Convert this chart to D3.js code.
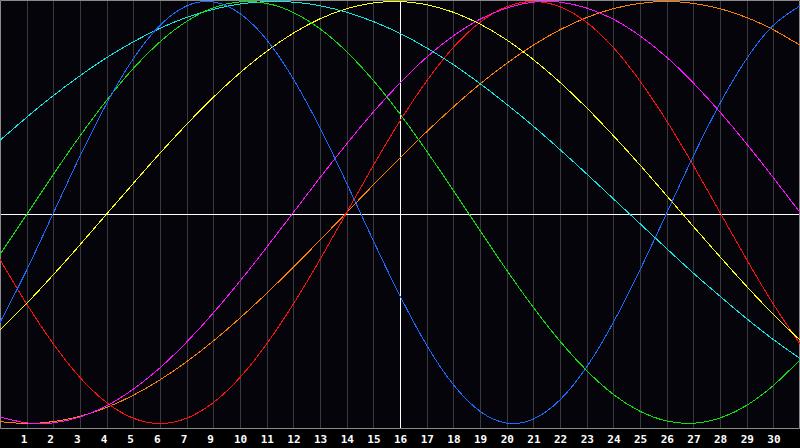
<!DOCTYPE html>
<html>
<head>
<meta charset="utf-8">
<script src="https://cdn.jsdelivr.net/npm/d3@7"></script>
<style>
  html, body { margin: 0; padding: 0; background: #000; }
  svg { display: block; }
</style>
</head>
<body>
<div id="chart"></div>
<script>
// days along the x axis (0..30) and the labels under the grid lines
var days = d3.range(0, 31);
var tickLabels = ["1", "2", "3", "4", "5", "6", "7", "9", "10", "11", "12", "13", "14", "15",
  "16", "17", "18", "19", "20", "21", "22", "23", "24", "25", "26", "27", "28", "29", "30"];

// curve values, one per day
var redValues = [-0.223, -0.434, -0.623, -0.782, -0.901, -0.975, -1.000, -0.975, -0.901, -0.782, -0.623,
  -0.434, -0.223, 0.000, 0.223, 0.434, 0.623, 0.782, 0.901, 0.975, 1.000, 0.975, 0.901, 0.782, 0.623,
  0.434, 0.223, 0.000, -0.223, -0.434, -0.623];
var blueValues = [-0.521, -0.273, -0.003, 0.267, 0.517, 0.729, 0.887, 0.979, 0.998, 0.943, 0.819,
  0.633, 0.401, 0.139, -0.134, -0.395, -0.629, -0.816, -0.942, -0.998, -0.979, -0.888, -0.732, -0.521,
  -0.272, -0.003, 0.267, 0.517, 0.729, 0.887, 0.979];
var greenValues = [-0.199, -0.010, 0.180, 0.363, 0.532, 0.683, 0.809, 0.906, 0.970, 0.998, 0.991,
  0.948, 0.871, 0.762, 0.626, 0.467, 0.291, 0.105, -0.086, -0.273, -0.450, -0.610, -0.749, -0.862,
  -0.942, -0.988, -0.999, -0.974, -0.914, -0.820, -0.698];
var cyanValues = [0.342, 0.451, 0.554, 0.648, 0.734, 0.809, 0.873, 0.925, 0.963, 0.988, 0.999,
  0.997, 0.980, 0.949, 0.905, 0.849, 0.780, 0.701, 0.611, 0.513, 0.409, 0.298, 0.183, 0.065,
  -0.053, -0.171, -0.287, -0.397, -0.503, -0.602, -0.692];
var yellowValues = [-0.558, -0.431, -0.295, -0.153, -0.007, 0.138, 0.281, 0.418, 0.546, 0.662, 0.764,
  0.850, 0.918, 0.966, 0.993, 1.000, 0.985, 0.949, 0.893, 0.818, 0.725, 0.617, 0.496, 0.364,
  0.225, 0.080, -0.066, -0.210, -0.350, -0.483, -0.605];
var magentaValues = [-0.969, -0.997, -0.997, -0.969, -0.916, -0.837, -0.736, -0.614, -0.476, -0.325, -0.165,
  0.000, 0.165, 0.325, 0.476, 0.614, 0.736, 0.837, 0.916, 0.969, 0.997, 0.997, 0.969, 0.916,
  0.837, 0.736, 0.614, 0.476, 0.325, 0.165, 0.000];
var orangeValues = [-0.991, -1.000, -0.991, -0.966, -0.924, -0.866, -0.793, -0.707, -0.609, -0.500, -0.383,
  -0.259, -0.131, 0.000, 0.131, 0.259, 0.383, 0.500, 0.609, 0.707, 0.793, 0.866, 0.924, 0.966,
  0.991, 1.000, 0.991, 0.966, 0.924, 0.866, 0.793];

var seriesNames = ["orange", "red", "magenta", "yellow", "cyan", "green", "blue"];
var seriesValues = [orangeValues, redValues, magentaValues, yellowValues, cyanValues, greenValues, blueValues];
var seriesColors = ["#ff8000", "#ff1010", "#ff10ff", "#ffff10", "#10e8e8", "#10e010", "#1a6cff"];

var svgWidth = 800;
var svgHeight = 448;
var plotBottom = 428;

var svg = d3.select("#chart")
  .append("svg")
  .attr("width", svgWidth)
  .attr("height", svgHeight);

svg.append("rect")
  .attr("width", svgWidth)
  .attr("height", svgHeight)
  .attr("fill", "#000000");

svg.append("rect")
  .attr("x", 0)
  .attr("y", 0)
  .attr("width", svgWidth)
  .attr("height", plotBottom)
  .attr("fill", "#05040a");

var xScale = d3.scaleLinear()
  .domain([0, 30])
  .range([0, svgWidth]);

var yScale = d3.scaleLinear()
  .domain([-1, 1])
  .range([423.5, 1.5]);

// vertical day grid
var gridDays = d3.range(1, 30);
svg.selectAll(".grid")
  .data(gridDays)
  .enter()
  .append("line")
  .attr("class", "grid")
  .attr("x1", d => Math.round(xScale(d)) + 0.5)
  .attr("x2", d => Math.round(xScale(d)) + 0.5)
  .attr("y1", 0)
  .attr("y2", plotBottom)
  .attr("stroke", d => d === 15 ? "#ffffff" : "#3a3a3e")
  .attr("stroke-width", 1);

// zero line
svg.append("line")
  .attr("x1", 0)
  .attr("x2", svgWidth)
  .attr("y1", 214.5)
  .attr("y2", 214.5)
  .attr("stroke", "#ffffff")
  .attr("stroke-width", 1);

// frame
svg.append("path")
  .attr("d", `M0.5,${plotBottom + 0.5}V0.5H${svgWidth - 0.5}V${plotBottom + 0.5}Z`)
  .attr("fill", "none")
  .attr("stroke", "#8a8a8a")
  .attr("stroke-width", 1);

var line = d3.line()
  .x((d, i) => xScale(days[i]))
  .y(d => yScale(d))
  .curve(d3.curveNatural);

seriesValues.forEach(function(values, k) {
  svg.append("path")
    .datum(values)
    .attr("class", "curve " + seriesNames[k])
    .attr("d", line)
    .attr("fill", "none")
    .attr("stroke", seriesColors[k])
    .attr("stroke-width", 1)
    .attr("shape-rendering", "crispEdges");
});

// day labels under the grid
svg.selectAll(".daylabel")
  .data(tickLabels)
  .enter()
  .append("text")
  .attr("class", "daylabel")
  .attr("x", (d, i) => xScale(i + 1) - 6)
  .attr("y", 443)
  .attr("fill", "#ffffff")
  .attr("font-family", "DejaVu Sans Mono, monospace")
  .attr("font-weight", "bold")
  .attr("font-size", "11px")
  .text(d => d);
</script>
</body>
</html>
